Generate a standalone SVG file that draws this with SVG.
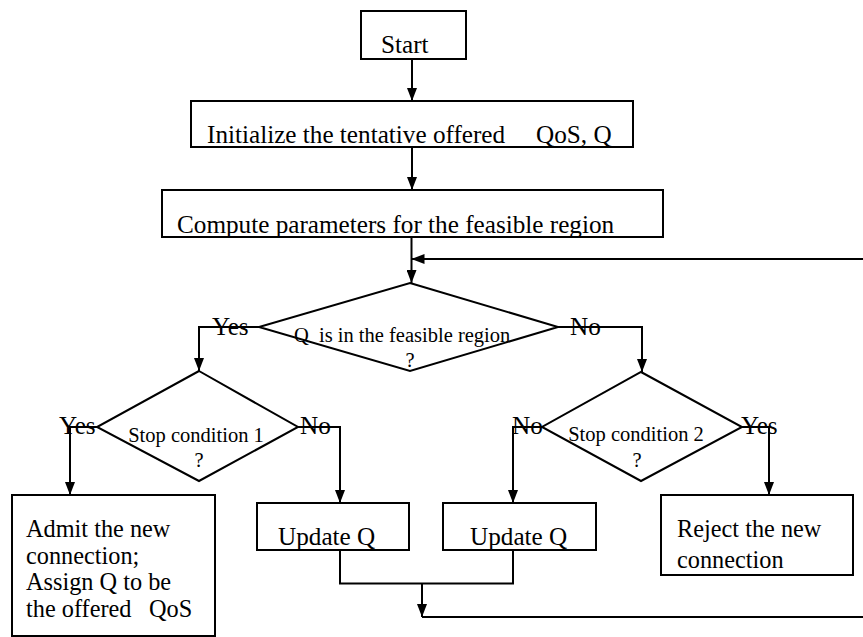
<svg xmlns="http://www.w3.org/2000/svg" width="863" height="637" viewBox="0 0 863 637">
  <style>
    .box { fill: #ffffff; stroke: #000000; stroke-width: 2; }
    .dec { fill: #ffffff; stroke: #000000; stroke-width: 2; }
    .wire { fill: none; stroke: #000000; stroke-width: 2; }
    .arrow { fill: none; stroke: #000000; stroke-width: 2; marker-end: url(#head); }
    .t { font-size: 25.2px; }
    .m { font-size: 24.3px; }
    .s { font-size: 20.5px; }
    .c { text-anchor: middle; }
  </style>
  <defs>
    <marker id="head" markerWidth="13" markerHeight="10" refX="13" refY="5" orient="auto" markerUnits="userSpaceOnUse">
      <path d="M0,0 L13,5 L0,10 Z" fill="#000000"/>
    </marker>
  </defs>

  <!-- connectors -->
  <g id="connectors">
    <line class="arrow" x1="412" y1="59" x2="412" y2="101"/>
    <line class="arrow" x1="412" y1="147" x2="412" y2="190"/>
    <line class="arrow" x1="411.5" y1="237" x2="411.5" y2="283"/>
    <!-- loop back from the merge point -->
    <line class="arrow" x1="864" y1="259" x2="411.5" y2="259"/>
    <!-- main decision branches -->
    <polyline class="arrow" points="259,327 199,327 199,371"/>
    <polyline class="arrow" points="558,327 642,327 642,372"/>
    <!-- stop condition 1 branches -->
    <polyline class="arrow" points="97,427 70,427 70,495"/>
    <polyline class="arrow" points="298,427 340,427 340,503"/>
    <!-- stop condition 2 branches -->
    <polyline class="arrow" points="542,427 513,427 513,503"/>
    <polyline class="arrow" points="742,427 769,427 769,495"/>
    <!-- merge of both updates -->
    <polyline class="wire" points="340,550 340,583.5 513,583.5 513,550"/>
    <line class="arrow" x1="422" y1="583.5" x2="422" y2="617"/>
    <line class="wire" x1="422" y1="617" x2="864" y2="617"/>
  </g>

  <g font-family="'Liberation Serif', 'DejaVu Serif', serif" fill="#000000">
    <g id="start">
      <rect class="box" x="361" y="11" width="105" height="48"/>
      <text class="t" x="381" y="53">Start</text>
    </g>

    <g id="init">
      <rect class="box" x="191" y="101" width="442" height="46"/>
      <text class="t" y="143"><tspan x="207">Initialize the tentative offered</tspan><tspan x="536">QoS, Q</tspan></text>
    </g>

    <g id="compute">
      <rect class="box" x="162" y="190" width="501" height="47"/>
      <text class="t" x="177" y="233">Compute parameters for the feasible region</text>
    </g>

    <g id="feasible">
      <polygon class="dec" points="410,283 558,327 410,371 259,327"/>
      <text class="s" y="342"><tspan x="294">Q</tspan><tspan x="319">is in the feasible region</tspan></text>
      <text class="s c" x="410" y="367">?</text>
      <text class="t" x="212" y="335">Yes</text>
      <text class="t" x="570" y="335">No</text>
    </g>

    <g id="stop1">
      <polygon class="dec" points="199,371 298,427 199,481 97,427"/>
      <text class="s c" x="196" y="442">Stop condition 1</text>
      <text class="s c" x="199" y="467">?</text>
      <text class="t" x="59" y="434">Yes</text>
      <text class="t" x="300" y="434">No</text>
    </g>

    <g id="stop2">
      <polygon class="dec" points="641,372 742,427 641,481 542,427"/>
      <text class="s c" x="636" y="441">Stop condition 2</text>
      <text class="s c" x="637" y="467">?</text>
      <text class="t" x="512" y="434">No</text>
      <text class="t" x="741" y="434">Yes</text>
    </g>

    <g id="admit">
      <rect class="box" x="12" y="495" width="203" height="141"/>
      <text class="m" x="26" y="537">Admit the new</text>
      <text class="m" x="26" y="563.5">connection;</text>
      <text class="m" x="26" y="590">Assign Q to be</text>
      <text class="m" y="617"><tspan x="26">the offered</tspan><tspan x="149">QoS</tspan></text>
    </g>

    <g id="update1">
      <rect class="box" x="257" y="503" width="152" height="47"/>
      <text class="t" x="278" y="545">Update Q</text>
    </g>

    <g id="update2">
      <rect class="box" x="443" y="503" width="153" height="47"/>
      <text class="t" x="470" y="545">Update Q</text>
    </g>

    <g id="reject">
      <rect class="box" x="661" y="495" width="192" height="80"/>
      <text class="m" x="677" y="537">Reject the new</text>
      <text class="m" x="677" y="568">connection</text>
    </g>
  </g>
</svg>
